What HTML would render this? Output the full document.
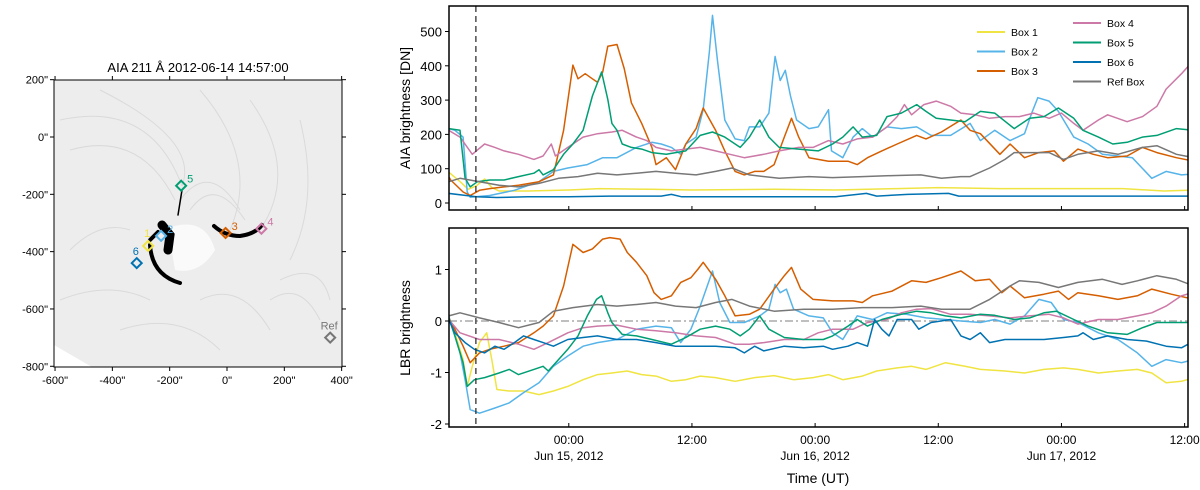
<!DOCTYPE html>
<html><head><meta charset="utf-8">
<style>
html,body{margin:0;padding:0;background:#fff;}
svg{display:block;font-family:"Liberation Sans",sans-serif;}
</style></head>
<body>
<svg id="fig" width="1200" height="490" viewBox="0 0 1200 490">
 <g>
  <text x="198" y="72" font-size="13" text-anchor="middle">AIA 211 Å 2012-06-14 14:57:00</text>
  <rect x="54" y="80" width="288" height="287" fill="#ededed"/>
  <g stroke="#d8d8d8" stroke-width="1" fill="none" opacity="0.9">
   <path d="M60 120 Q150 100 182 186"/><path d="M70 150 Q140 130 175 200"/><path d="M100 90 Q200 140 182 186"/>
   <path d="M200 90 Q260 160 230 230"/><path d="M250 100 Q300 170 260 230"/><path d="M300 120 Q320 200 290 260"/>
   <path d="M180 200 Q210 160 240 210"/><path d="M190 210 Q215 175 245 220"/><path d="M280 280 Q320 260 330 300"/>
   <path d="M270 300 Q300 280 320 320"/><path d="M70 250 Q100 220 130 230"/><path d="M60 300 Q110 280 150 300"/>
   <path d="M200 300 Q240 280 270 330"/><path d="M120 330 Q180 310 220 350"/>
  </g>
  <path d="M168 228 Q205 215 215 250 Q200 275 175 270 Z" fill="#fafafa"/>
  <g fill="none" stroke="#000" stroke-linecap="round">
   <path d="M162 225 L170 235 L168 250" stroke-width="9"/>
   <path d="M150 245 Q152 275 180 283" stroke-width="4"/>
   <path d="M214 226 Q225 236 240 236 Q255 234 262 225" stroke-width="4"/>
   <path d="M182 190 L178 215" stroke-width="1.5"/>
   <path d="M150 240 L158 232" stroke-width="4"/>
  </g>
  <polygon points="54,345 54,367 92,367" fill="#fff"/>
  <rect x="54" y="80" width="288" height="287" fill="none" stroke="#000" stroke-width="1"/>
  <g id="imgticks"></g>
  <g id="markers"></g>
 </g>
 <g id="topPanel"></g>
 <g id="botPanel"></g>
 <text x="410" y="108" font-size="14" text-anchor="middle" transform="rotate(-90 410 108)">AIA brightness [DN]</text>
 <text x="410" y="328" font-size="14" text-anchor="middle" transform="rotate(-90 410 328)">LBR brightness</text>
 <text x="818" y="483" font-size="14" text-anchor="middle">Time (UT)</text>
</svg>
<script>
// ---- data (hours since 2012-06-14 00:00 UT) ----
const seriesNames = ["Box 1","Box 2","Box 3","Box 4","Box 5","Box 6","Ref Box"];
const seriesColors = ["#f0e442","#56b4e9","#d55e00","#cc79a7","#009e73","#0072b2","#777777"];
const flareTime = 14.95;
const xTickHours = [24,36,48,60,72,84];
const xTickTimes = ["00:00","12:00","00:00","12:00","00:00","12:00"];
const xTickDates = ["Jun 15, 2012","","Jun 16, 2012","","Jun 17, 2012",""];
const topTicks = [0,100,200,300,400,500];
const botTicks = [-2,-1,0,1];

// top panel
const t1Top = [12.3,13.5,14.2,15,15.8,16.5,17.2,20,24,27,32,36,44,50,56,60,66,72,78,82,84.9];
const v1Top = [90,60,40,50,70,45,35,35,38,42,40,38,40,38,42,45,42,42,42,35,38];
const t2Top = [12.3,12.9,13.7,14.1,14.4,16.3,18.7,21.1,22.5,23.9,25.8,27.3,28.7,30.6,32.1,33.0,34.0,34.9,35.4,36.4,37.1,37.7,38.0,38.5,39.2,40.2,41.1,41.6,42.6,43.5,44.1,44.6,45.1,45.6,46.2,47.4,48.3,49.3,49.6,50.7,51.7,52.6,53.6,55.0,56.4,57.9,59.3,61.2,63.1,64.1,65.5,67.0,68.4,69.1,69.7,70.8,71.7,73.2,74.6,76.0,77.5,78.9,80.8,82.2,83.7,84.9];
const v2Top = [217,212,192,32,17,22,37,62,92,102,112,132,132,162,177,172,162,142,172,192,272,442,547,412,242,187,182,222,222,262,427,357,387,312,242,217,222,272,152,132,192,217,192,222,217,222,197,197,232,182,212,182,202,262,307,297,267,192,172,142,137,132,72,92,82,85];
const t3Top = [12.3,12.5,13.7,14.4,15.3,16.3,17.7,19.1,21.1,22.5,23.5,24.4,24.9,25.6,26.3,26.8,27.3,27.8,28.7,29.4,30.1,31.1,32.1,32.5,33.5,34.4,35.4,36.4,37.1,38.3,39.2,40.2,41.1,42.1,43.0,44.0,45.0,45.7,46.4,47.4,49.3,51.2,52.1,53.1,54.5,56.0,57.9,58.8,60.3,62.2,63.1,64.1,66.0,67.0,68.4,69.8,71.3,72.2,73.6,75.1,76.5,78.4,79.9,81.3,83.2,84.9];
const v3Top = [77,67,32,22,37,42,47,52,62,82,212,402,362,377,362,352,382,457,462,392,292,232,162,112,132,97,172,217,277,212,152,92,82,92,92,112,192,247,192,132,122,122,112,132,152,172,197,187,207,242,212,202,142,172,132,147,152,122,157,142,132,137,162,147,132,122];
const t4Top = [12.3,13.4,14.6,15.8,16.8,17.7,19.1,20.6,21.5,22.3,22.7,23.9,25.4,26.8,28.2,29.2,30.6,31.6,32.5,34.0,35.4,36.8,38.3,39.7,41.1,43.0,44.5,46.4,47.8,49.3,50.7,52.1,53.6,55.0,56.0,56.7,57.4,58.6,59.8,61.2,62.2,63.6,65.0,66.5,67.9,69.3,70.8,72.0,73.2,74.1,75.6,76.5,78.4,79.9,81.3,82.2,83.7,84.9];
const v4Top = [212,192,142,172,162,152,142,127,137,172,137,162,192,202,207,212,192,182,162,152,157,162,152,142,132,142,152,162,162,182,172,187,192,222,252,287,257,287,297,282,262,257,247,252,252,262,247,262,232,212,242,257,237,252,282,332,377,417];
const t5Top = [12.3,13.4,13.9,14.4,15.1,16.3,17.7,19.1,20.6,21.1,21.5,22.5,23.5,24.4,25.4,26.3,27.2,27.8,28.2,28.7,29.2,30.1,31.1,32.1,33.5,35.4,36.8,38.0,39.2,40.7,41.6,42.6,43.5,44.5,46.4,48.3,49.7,50.7,51.7,52.6,54.0,55.0,56.4,57.9,58.8,59.8,61.2,62.6,64.1,65.5,67.4,68.9,70.3,71.7,73.2,74.1,75.6,77.0,78.4,79.9,81.3,83.2,84.9];
const v5Top = [217,212,72,47,62,67,67,77,87,97,82,97,142,172,212,312,382,302,232,212,172,162,157,147,142,152,197,207,192,162,192,242,192,162,157,152,172,192,222,192,197,252,262,287,267,247,242,237,267,262,217,247,252,277,247,212,192,172,177,192,197,217,212];
const t6Top = [12.3,14,15,17,20,24,28,33,34,35,40,50,53,54,57,61,62,70,80,84.9];
const v6Top = [28,22,18,16,18,18,20,20,25,18,18,18,28,20,25,28,20,20,20,20];
const tRTop = [12.3,13.4,15.3,17.2,19.1,21.1,23,24.9,26.8,28.7,30.6,32.5,34.4,36.4,38.3,39.9,41.6,44.5,47.4,49.7,52.6,55.5,58.3,60.3,62.2,63.1,65.0,66.5,67.4,68.9,70.8,72.2,73.6,75.6,77.5,79.9,81.3,83.2,84.9];
const vRTop = [62,72,62,52,47,57,72,77,87,82,87,92,87,82,92,102,82,72,77,74,77,80,82,72,77,77,102,127,147,147,147,127,142,152,142,162,167,142,132];

// bottom panel
const t1Bot = [12.3,12.9,13.7,14.1,14.6,15.3,16.0,16.5,17.0,18.2,19.6,21.1,22.5,23.9,25.4,26.8,28.2,29.7,31.1,32.5,34.0,35.4,36.8,38.3,40.2,42.1,44.0,45.9,47.8,49.3,50.7,52.6,54.0,56.0,57.4,58.8,60.7,62.6,64.1,66.5,68.4,70.3,72.2,73.6,75.6,77.5,79.4,80.8,82.2,83.7,84.9];
const v1Bot = [.06,-.23,-.75,-1.27,-.88,-.42,-.23,-.75,-1.33,-1.36,-1.36,-1.43,-1.36,-1.27,-1.14,-1.04,-1.01,-.97,-1.04,-1.07,-1.17,-1.14,-1.07,-1.1,-1.17,-1.1,-1.06,-1.14,-1.1,-1.04,-1.14,-1.07,-.97,-.91,-.88,-.94,-.81,-.88,-.94,-.97,-1.01,-.94,-.91,-.94,-1.01,-.97,-.94,-1.01,-1.2,-1.17,-1.1];
const t2Bot = [12.3,13.4,13.9,14.4,15.3,16.8,18.2,19.6,21.1,22.5,23.9,25.4,26.8,28.7,30.6,32.5,34.0,34.9,35.9,36.8,38.0,38.7,39.7,41.1,42.6,43.5,44.1,44.6,45.2,45.9,47.4,48.8,49.7,50.7,52.1,53.6,55.0,56.9,58.8,60.7,62.2,64.1,65.5,67.0,68.4,69.8,71.0,72.2,73.6,75.6,77.5,79.4,80.8,82.2,83.7,84.9];
const v2Bot = [.1,-.62,-1.14,-1.72,-1.79,-1.69,-1.59,-1.39,-1.2,-.88,-.68,-.49,-.42,-.36,-.16,-.1,-.13,-.42,-.16,.29,.97,.36,-.03,-.03,.1,.23,.71,.55,.62,.23,.1,.06,-.23,-.36,.1,.03,.16,.13,.06,.03,0,-.03,.03,-.06,.1,.42,.36,.03,-.03,-.23,-.36,-.62,-.88,-.75,-.81,-.75];
const t3Bot = [12.3,12.9,13.7,14.4,15.3,16.3,17.7,19.1,20.6,21.5,22.5,23.5,24.4,25.4,26.3,27.3,28.0,29.0,29.7,30.6,31.6,32.3,33.0,34.0,34.9,35.9,36.6,37.1,38.3,39.2,40.2,41.6,42.6,44.0,45.0,45.7,46.6,47.8,49.7,51.7,52.6,53.6,55.5,57.4,58.8,60.3,62.2,63.6,65.0,66.2,67.0,68.4,70.3,71.7,72.7,73.6,75.6,77.5,79.4,80.8,82.7,84.9];
const v3Bot = [.06,-.16,-.49,-.81,-.62,-.55,-.49,-.42,-.23,-.1,.1,.68,1.49,1.33,1.4,1.59,1.62,1.59,1.33,1.14,.88,.55,.42,.49,.75,.84,1.01,1.14,.81,.49,.1,.13,.23,.62,.88,1.04,.62,.42,.39,.39,.36,.49,.58,.78,.75,.84,.97,.78,.81,.55,.68,.45,.52,.58,.42,.55,.49,.42,.49,.62,.52,.42];
const t4Bot = [12.3,13.4,15.3,17.2,19.1,20.6,22.0,23.9,25.4,26.8,28.7,30.6,32.5,34.4,36.4,38.3,40.2,41.6,43.0,45.0,46.9,48.3,49.7,51.7,53.1,55.0,56.4,57.9,59.3,61.2,63.1,65.0,67.0,68.9,70.8,72.2,73.6,75.6,77.5,79.4,80.8,82.2,83.7,84.9];
const v4Bot = [.03,-.23,-.36,-.36,-.45,-.55,-.42,-.23,-.13,-.1,-.08,-.16,-.19,-.23,-.29,-.32,-.45,-.45,-.42,-.36,-.36,-.23,-.16,-.16,-.03,.03,.16,.23,.24,.13,.13,.1,.06,.1,.13,.06,-.06,.03,.03,.1,.16,.29,.49,.56];
const t5Bot = [12.3,12.9,13.7,14.1,14.8,15.8,17.2,18.2,19.1,20.6,21.5,22.0,23.0,23.9,24.9,25.8,26.7,27.2,27.8,28.2,29.2,30.6,32.1,34.0,35.4,36.8,38.3,39.7,40.7,41.6,42.6,43.5,45.0,46.9,48.8,49.7,51.2,52.1,53.1,54.5,56.4,57.9,59.3,60.7,62.2,64.1,65.5,67.4,68.9,70.3,71.5,73.2,74.6,76.5,78.4,79.9,81.3,83.2,84.9];
const v5Bot = [.06,-.29,-.81,-1.27,-1.14,-1.1,-1.01,-.94,-1.04,-.94,-.88,-.97,-.75,-.55,-.29,.1,.42,.49,.16,-.03,-.26,-.29,-.36,-.45,-.32,-.16,-.1,-.16,-.29,-.16,.1,-.16,-.32,-.36,-.36,-.29,-.1,.03,-.1,.03,.13,.19,.16,.1,.06,.13,.11,.03,.06,.16,.19,.03,-.1,-.23,-.26,-.13,-.03,-.03,-.03];
const t6Bot = [12.3,12.9,13.9,14.8,15.8,16.8,17.7,18.7,19.6,20.6,21.5,22.5,23.9,25.4,26.8,28.7,30.6,32.5,34.4,35.4,36.8,38.3,40.2,41.1,42.1,43.0,45.0,46.9,48.8,49.7,51.2,52.1,53.1,53.8,54.5,55.2,56.0,57.4,58.1,59.3,61.2,62.2,63.1,64.1,65.0,66.5,68.4,70.3,72.2,73.6,74.1,75.1,76.5,78.4,80.3,82.2,83.7,84.9];
const v6Bot = [.03,-.23,-.42,-.55,-.62,-.49,-.55,-.42,-.29,-.36,-.42,-.49,-.36,-.32,-.29,-.36,-.36,-.42,-.49,-.49,-.49,-.49,-.52,-.62,-.49,-.58,-.49,-.52,-.49,-.55,-.49,-.42,-.49,.03,-.16,-.29,.03,.03,-.16,-.03,.03,-.29,-.36,-.23,-.42,-.36,-.36,-.36,-.32,-.29,-.23,-.36,-.29,-.36,-.39,-.49,-.52,-.39];
const tRBot = [12.3,13.4,15.3,17.2,19.1,21.1,22.5,24.4,26.8,28.7,30.6,32.5,34.4,36.4,38.3,39.9,41.6,44.0,46.9,49.7,52.6,55.5,58.3,60.3,63.1,65.0,67.0,67.9,69.8,71.7,73.6,76.0,77.9,79.4,81.3,83.2,84.9];
const vRBot = [.1,.16,.06,-.03,-.13,-.03,.19,.26,.32,.29,.32,.36,.29,.26,.36,.42,.29,.19,.23,.23,.26,.26,.29,.23,.23,.42,.68,.78,.75,.65,.75,.81,.71,.78,.88,.81,.68];

// image markers (arcsec)
const markerLabels = ["1","2","3","4","5","6","Ref"];
const markerX = [-275,-230,-5,120,-160,-315,360];
const markerY = [-380,-345,-335,-320,-170,-440,-700];
const imgTicksX = [-600,-400,-200,0,200,400];
const imgTicksY = [200,0,-200,-400,-600,-800];

// ---- drawing ----
const NS = "http://www.w3.org/2000/svg";
function mk(tag, attrs, parent){ const e=document.createElementNS(NS,tag); for(const k in attrs) e.setAttribute(k,attrs[k]); parent.appendChild(e); return e; }
const X0=449, X1=1188, H0=12.33, H1=84.33;
function xs(h){ return X0+(h-H0)*(X1-X0)/(H1-H0); }
function yTopF(v){ return 203 - v*0.343; }
function yBotF(v){ return 321 - v*51.5; }

// image ticks
const itG = document.getElementById('imgticks');
function ix(a){ return 227 + a*0.2866; }
function iy(a){ return 137 - a*0.2866; }
imgTicksX.forEach(a=>{
  const l=mk('line',{x1:ix(a),x2:ix(a),y1:367,y2:371,stroke:'#000'},itG);
  
  
  const l2=mk('line',{x1:ix(a),x2:ix(a),y1:80,y2:76,stroke:'#000'},itG);
  
  
  const t=mk('text',{x:ix(a),y:384,'font-size':11,'text-anchor':'middle'},itG); t.textContent=a+'"';
  
  
});
imgTicksY.forEach(a=>{
  const l=mk('line',{x1:50,x2:54,y1:iy(a),y2:iy(a),stroke:'#000'},itG);
  
  
  const l2=mk('line',{x1:342,x2:346,y1:iy(a),y2:iy(a),stroke:'#000'},itG);
  
  
  const t=mk('text',{x:48,y:iy(a)+4,'font-size':11,'text-anchor':'end'},itG); t.textContent=a+'"';
  
  
});
const mgG = document.getElementById('markers');
markerLabels.forEach((lab,i)=>{
  const cx=ix(markerX[i]), cy=iy(markerY[i]), r=5;
  const p=mk('polygon',{points:`${cx},${cy-r} ${cx+r},${cy} ${cx},${cy+r} ${cx-r},${cy}`,fill:'none',stroke:seriesColors[i],'stroke-width':2},mgG);
  
  
  let tx=cx+6, ty=cy-3, anc='start';
  if(lab==='1'){tx=cx-4;ty=cy-9;}
  if(lab==='6'){tx=cx-4;ty=cy-8;}
  if(lab==='Ref'){tx=cx-1;ty=cy-8;anc='middle';}
  const t=mk('text',{x:tx,y:ty,'font-size':11,fill:seriesColors[i],'text-anchor':anc},mgG); t.textContent=lab;
  
  
});

function drawPanel(g, yTopPx, yBotPx, yf, ticks, series, withLabels){
  const clipId='clip'+yTopPx;
  const defs=mk('defs',{},g);
  const cp=mk('clipPath',{id:clipId},defs);
  mk('rect',{x:X0,y:yTopPx,width:X1-X0,height:yBotPx-yTopPx},cp);
  const plot=mk('g',{'clip-path':`url(#${clipId})`},g);
  
  
  series.forEach((s,i)=>{
    const d=s[0].map((h,j)=>(j?'L':'M')+xs(h).toFixed(1)+' '+yf(s[1][j]).toFixed(1)).join(' ');
    const p=mk('path',{d:d,fill:'none',stroke:seriesColors[i],'stroke-width':1.5,'stroke-linejoin':'round'},plot);
    
    
  });
  const fl=mk('line',{x1:xs(flareTime),x2:xs(flareTime),y1:yTopPx,y2:yBotPx,stroke:'#222','stroke-width':1.2,'stroke-dasharray':'6,4'},g);
  
  
  const fr=mk('rect',{x:X0,y:yTopPx,width:X1-X0,height:yBotPx-yTopPx,fill:'none',stroke:'#000','stroke-width':1.5},g);
  
  
  ticks.forEach(v=>{
    const y=yf(v);
    const l=mk('line',{x1:X0-4,x2:X0,y1:y,y2:y,stroke:'#000'},g);
    
    
    const t=mk('text',{x:X0-7,y:y+5,'font-size':13,'text-anchor':'end'},g); t.textContent=v;
    
    
  });
  xTickHours.forEach((h,i)=>{
    const x=xs(h);
    const l=mk('line',{x1:x,x2:x,y1:yBotPx,y2:yBotPx-4,stroke:'#000'},g);
    
    
    if(withLabels){
      const t=mk('text',{x:x,y:yBotPx+17,'font-size':12,'text-anchor':'middle'},g); t.textContent=xTickTimes[i];
      
      
      if(xTickDates[i]){
        const t2=mk('text',{x:x,y:yBotPx+33,'font-size':12,'text-anchor':'middle'},g); t2.textContent=xTickDates[i];
        
        
      }
    }
  });
}
const topG=document.getElementById('topPanel'), botG=document.getElementById('botPanel');
drawPanel(topG,6,210,yTopF,topTicks,[[t1Top,v1Top],[t2Top,v2Top],[t3Top,v3Top],[t4Top,v4Top],[t5Top,v5Top],[t6Top,v6Top],[tRTop,vRTop]],false);
const zl=mk('line',{x1:X0,x2:X1,y1:yBotF(0),y2:yBotF(0),stroke:'#999','stroke-width':1.3,'stroke-dasharray':'8,3,2,3'},botG);


drawPanel(botG,228,427,yBotF,botTicks,[[t1Bot,v1Bot],[t2Bot,v2Bot],[t3Bot,v3Bot],[t4Bot,v4Bot],[t5Bot,v5Bot],[t6Bot,v6Bot],[tRBot,vRBot]],true);

// legend
const leg=mk('g',{},topG);


seriesNames.forEach((n,i)=>{
  const col = i<3?0:1, row = i<3?i:i-3;
  const lx = col? 1073:977, ly = col? 23+row*19.5 : 32+row*19.5;
  const e=mk('g',{},leg);
  
  
  mk('line',{x1:lx,x2:lx+28,y1:ly,y2:ly,stroke:seriesColors[i],'stroke-width':2},e);
  const t=mk('text',{x:lx+34,y:ly+4,'font-size':10.5},e); t.textContent=n;
});
</script>
</body></html>
